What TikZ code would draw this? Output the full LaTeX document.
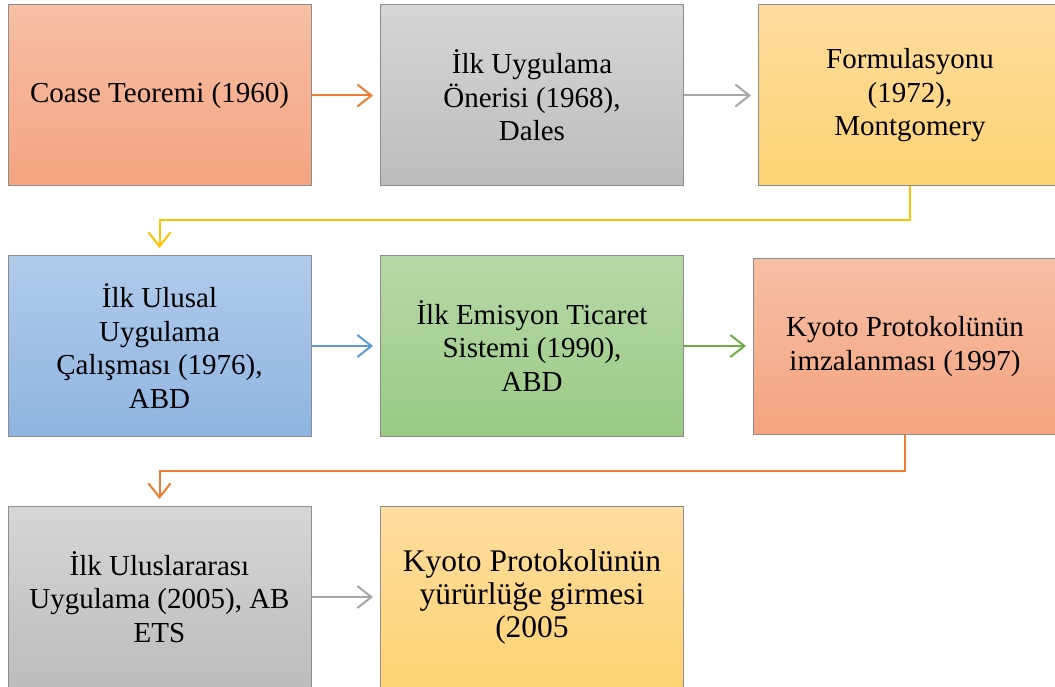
\documentclass[tikz,border=0pt]{standalone}
\usepackage{fontspec}
\setmainfont{Liberation Serif}
\usetikzlibrary{arrows.meta}

\definecolor{acOrange}{HTML}{ED7D31}
\definecolor{acGray}{HTML}{A5A5A5}
\definecolor{acYellow}{HTML}{FFC000}
\definecolor{acBlue}{HTML}{5B9BD5}
\definecolor{acGreen}{HTML}{70AD47}

\begin{document}
\begin{tikzpicture}[x=1pt,y=-1pt,
  box/.style={draw=black!45,line width=1pt,minimum width=303pt,minimum height=181pt,
    align=center,inner sep=0pt,font=\fontsize{29}{33.5}\selectfont},
  orangebox/.style={box,top color={rgb,255:red,247;green,191;blue,165},bottom color={rgb,255:red,244;green,164;blue,127}},
  graybox/.style={box,top color={rgb,255:red,214;green,214;blue,214},bottom color={rgb,255:red,188;green,188;blue,188}},
  yellowbox/.style={box,top color={rgb,255:red,255;green,221;blue,158},bottom color={rgb,255:red,255;green,210;blue,115}},
  bluebox/.style={box,top color={rgb,255:red,177;green,203;blue,234},bottom color={rgb,255:red,143;green,180;blue,226}},
  greenbox/.style={box,top color={rgb,255:red,183;green,216;blue,168},bottom color={rgb,255:red,155;green,202;blue,132}},
  conn/.style={line width=2pt,-{Straight Barb[length=14pt,width=22pt,line width=2pt]},shorten >=7pt}]
  \useasboundingbox (0,0) rectangle (1055,687);
  \clip (0,0) rectangle (1055,687);

  % First row
  \node[orangebox] (coase) at (159.5,95.5) {Coase Teoremi (1960)};
  \node[graybox] (oneri) at (532,95.5) {İlk Uygulama\\Önerisi (1968),\\Dales};
  \node[yellowbox] (formul) at (910,95.5) {Formulasyonu\\(1972),\\Montgomery};

  % Second row
  \node[bluebox] (ulusal) at (159.5,346) {İlk Ulusal\\Uygulama\\Çalışması (1976),\\ABD};
  \node[greenbox] (emisyon) at (532,346) {İlk Emisyon Ticaret\\Sistemi (1990),\\ABD};
  \node[orangebox,minimum height=175pt] (kyotoimza) at (905,346.5) {Kyoto Protokolünün\\imzalanması (1997)};

  % Third row
  \node[graybox] (uluslararasi) at (159.5,597) {İlk Uluslararası\\Uygulama (2005), AB\\ETS};
  \node[yellowbox,font=\fontsize{31.5}{33}\selectfont] (kyotoyur) at (532,597) {Kyoto Protokolünün\\yürürlüğe girmesi\\(2005};

  % Connectors
  \draw[conn,acOrange] (coase) -- (oneri);
  \draw[conn,acGray] (oneri) -- (formul);
  \draw[conn,acYellow] (formul.south) -- ++(0,34) -| (ulusal.north);
  \draw[conn,acBlue] (ulusal) -- (emisyon);
  \draw[conn,acGreen] (emisyon) -- (emisyon.east -| kyotoimza.west);
  \draw[conn,acOrange] (kyotoimza.south) -- ++(0,36) -| (uluslararasi.north);
  \draw[conn,acGray] (uluslararasi) -- (kyotoyur);
\end{tikzpicture}
\end{document}
